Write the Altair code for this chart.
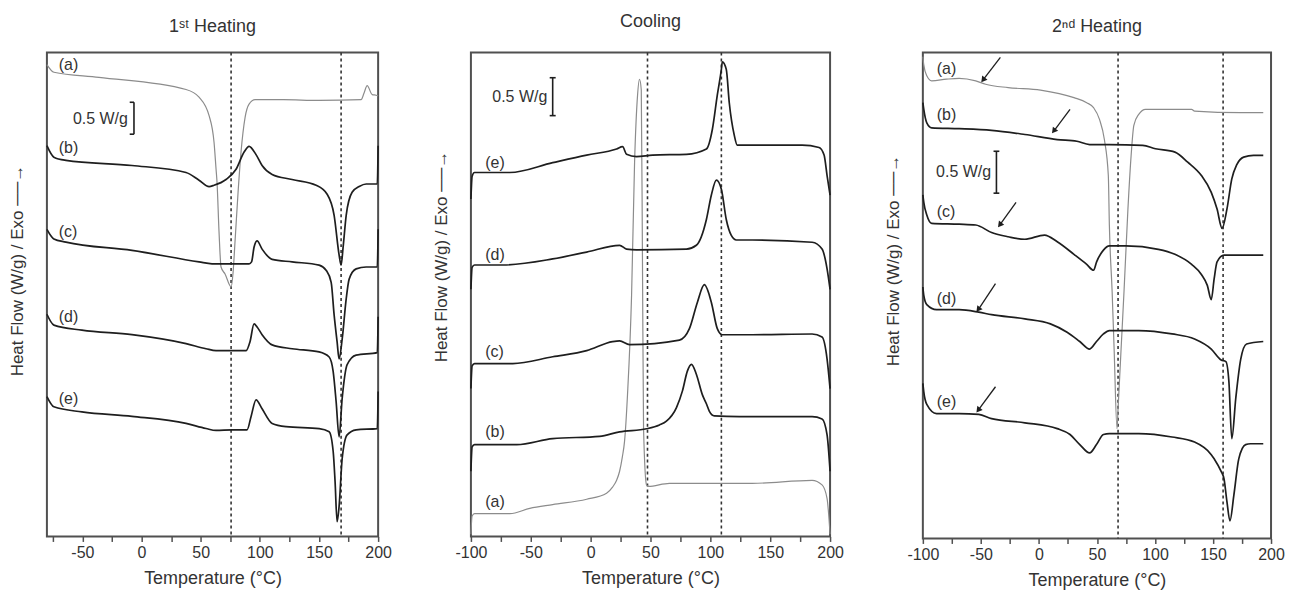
import altair as alt
import pandas as pd

FONT = "Liberation Sans"
INK = "#1e1e1e"
GRAY = "#8c8c8c"
FRAME = "#505050"
YTITLE = "Heat Flow (W/g) / Exo ──→"
XTITLE = "Temperature (°C)"

# ---------------- Panel 1: 1st heating ----------------
h1_a_T = [-80, -74.1, -36, 37.6, 48.6, 57.1, 61.3, 63, 63.8, 65.5, 67.2, 70.6, 75.7, 77.4, 79, 81.6, 84.1, 87.5, 90.9, 96, 120, 150, 185.6, 188.2, 190.7, 195, 198.3, 200]
h1_a_v = [7.39, 7.27, 7.19, 7.00, 6.88, 6.59, 6.17, 5.75, 5.55, 4.77, 4.22, 4.11, 3.91, 4.14, 4.61, 5.39, 6.02, 6.56, 6.77, 6.84, 6.84, 6.83, 6.84, 6.95, 7.06, 6.92, 6.91, 6.90]
h1_b_T = [-80, -74.1, -63.9, -8.1, 37.6, 48.6, 57.1, 61.3, 71.4, 79.9, 86.7, 90.9, 96.8, 101.9, 110.4, 127.3, 147.6, 156.9, 162.8, 167, 168.7, 170.4, 173, 178, 184, 189.9, 198.3, 199.3, 200]
h1_b_v = [6.12, 5.94, 5.89, 5.81, 5.70, 5.58, 5.48, 5.50, 5.59, 5.75, 6.02, 6.11, 5.98, 5.81, 5.67, 5.59, 5.50, 5.36, 5.03, 4.41, 4.25, 4.53, 5.03, 5.39, 5.48, 5.52, 5.52, 5.52, 6.12]
h1_c_T = [-80, -74.1, -63.9, -8.1, 48.6, 59.6, 90.9, 93, 95.1, 97.7, 101.9, 110.4, 127.3, 150.1, 156, 160.3, 162.8, 165.3, 167, 169.6, 173, 175.5, 181.4, 189.9, 199.3, 200]
h1_c_v = [4.81, 4.66, 4.61, 4.48, 4.30, 4.27, 4.27, 4.30, 4.53, 4.63, 4.50, 4.34, 4.30, 4.25, 4.17, 3.98, 3.47, 3.05, 2.78, 3.09, 3.72, 4.03, 4.19, 4.22, 4.22, 4.81]
h1_d_T = [-80, -74.1, -50.4, -8.1, 37.6, 54.5, 63, 88.4, 91.7, 95.1, 97.7, 101.9, 110.4, 127.3, 150.1, 158.6, 162, 164.5, 167, 169.6, 173.8, 181.4, 199.3, 200]
h1_d_v = [3.48, 3.31, 3.23, 3.16, 3.02, 2.94, 2.91, 2.91, 3.05, 3.33, 3.28, 3.16, 3.00, 2.94, 2.89, 2.81, 2.58, 2.11, 1.56, 2.16, 2.69, 2.84, 2.88, 3.44]
h1_e_T = [-80, -74.1, -50.4, -8.1, 37.6, 54.5, 63, 76.5, 89.2, 92.6, 96.8, 101.9, 110.4, 122.2, 150.1, 158.6, 162, 163.6, 165.3, 167, 169.6, 173.8, 181.4, 199.3, 200]
h1_e_v = [2.19, 2.03, 1.95, 1.88, 1.77, 1.69, 1.66, 1.67, 1.67, 1.88, 2.14, 2.00, 1.77, 1.72, 1.69, 1.64, 1.33, 0.86, 0.23, 0.47, 1.22, 1.59, 1.67, 1.69, 2.27]
h1_dash_T = [75.7, 168.7]
h1_lab_text = ["(a)", "(b)", "(c)", "(d)", "(e)"]
h1_lab_T = [-70, -70, -70, -70, -70]
h1_lab_v = [7.38, 6.09, 4.77, 3.44, 2.16]

# ---------------- Panel 2: cooling ----------------
c_a_T = [-100, -99, -97, -67.5, -50.8, -31.7, -3.3, 13.3, 18.3, 21.7, 24.2, 26.5, 28.3, 30.8, 34.2, 36.7, 39.2, 40.8, 42.3, 43.3, 44.2, 46.7, 48.3, 65.8, 135, 185, 193.3, 197.5, 200]
c_a_v = [0.03, 0.27, 0.30, 0.30, 0.37, 0.42, 0.49, 0.57, 0.65, 0.74, 0.86, 1.05, 1.25, 1.87, 3.18, 4.93, 5.82, 6.03, 5.89, 3.62, 1.42, 0.68, 0.66, 0.70, 0.70, 0.74, 0.68, 0.50, 0.03]
c_b_T = [-100, -99, -97, -61.7, -31.7, 7.5, 24.2, 46.7, 57.5, 63.3, 71.7, 76.7, 80.8, 84.2, 88.3, 93.3, 96.7, 99.2, 103.3, 124.2, 185, 193.3, 197.5, 200]
c_b_v = [0.86, 1.18, 1.21, 1.21, 1.29, 1.32, 1.38, 1.42, 1.47, 1.52, 1.70, 1.92, 2.18, 2.27, 2.14, 1.87, 1.75, 1.65, 1.59, 1.58, 1.58, 1.55, 1.34, 0.86]
c_c_T = [-100, -99, -97, -65, -31.7, -3.3, 18.3, 24.2, 32.5, 74.2, 82.5, 89.2, 95, 100.8, 105.8, 110, 124.2, 135, 185, 193.3, 197.5, 200]
c_c_v = [1.95, 2.25, 2.28, 2.28, 2.37, 2.45, 2.57, 2.58, 2.53, 2.59, 2.74, 3.09, 3.32, 3.09, 2.74, 2.66, 2.66, 2.66, 2.67, 2.63, 2.34, 1.95]
c_d_T = [-100, -99, -97, -73.3, -31.7, -3.3, 24.2, 30, 38.3, 80, 88.3, 96.7, 100.8, 105, 109.2, 113.3, 117.5, 121.7, 135, 185, 193.3, 197.5, 200]
c_d_v = [3.26, 3.55, 3.58, 3.58, 3.66, 3.75, 3.84, 3.79, 3.78, 3.79, 3.84, 4.18, 4.50, 4.70, 4.58, 4.18, 3.97, 3.91, 3.91, 3.88, 3.79, 3.53, 3.26]
c_e_T = [-100, -99, -97, -67.5, -31.7, -3.3, 21.7, 26.7, 30, 38.3, 51.7, 80, 96.7, 101.7, 105.8, 109.2, 110, 113.3, 115.8, 120, 122.5, 135, 176.7, 190.8, 195, 197.5, 200]
c_e_v = [4.45, 4.75, 4.80, 4.80, 4.93, 5.03, 5.11, 5.14, 5.04, 5.01, 5.03, 5.04, 5.11, 5.37, 5.82, 6.16, 6.26, 6.16, 5.72, 5.29, 5.16, 5.16, 5.16, 5.13, 5.03, 4.76, 4.50]
c_dash_T = [47.5, 109.2]
c_lab_text = ["(e)", "(d)", "(c)", "(b)", "(a)"]
c_lab_T = [-88, -88, -88, -88, -88]
c_lab_v = [4.93, 3.71, 2.43, 1.38, 0.46]

# ---------------- Panel 3: 2nd heating ----------------
h2_a_T = [-100, -99.2, -96.6, -92.4, -79.7, -68.7, -54.4, -45.9, -26.5, 1.4, 30.2, 41.2, 47.1, 52.2, 56.4, 59.8, 60.7, 63.1, 64.8, 67.3, 68.2, 70.8, 73.3, 76.7, 79.2, 81.8, 86, 91.9, 131.6, 134.1, 173.9, 193.3]
h2_a_v = [5.75, 5.65, 5.52, 5.46, 5.48, 5.49, 5.46, 5.42, 5.38, 5.35, 5.26, 5.20, 5.14, 5.00, 4.76, 4.33, 3.74, 2.94, 2.26, 1.31, 1.55, 2.26, 2.94, 3.93, 4.52, 4.93, 5.06, 5.12, 5.12, 5.10, 5.08, 5.08]
h2_b_T = [-100, -99.2, -96.6, -92.4, -68.7, -40.8, -12.1, 15.8, 32.7, 43.7, 60.7, 89.4, 100.4, 117.2, 128.2, 140, 148.5, 153.5, 157.8, 162, 166.2, 170.5, 176.4, 184.9, 193.3]
h2_b_v = [5.20, 5.12, 4.96, 4.90, 4.89, 4.87, 4.82, 4.76, 4.74, 4.70, 4.70, 4.69, 4.65, 4.61, 4.49, 4.33, 4.13, 3.93, 3.70, 3.93, 4.29, 4.46, 4.55, 4.57, 4.57]
h2_c_T = [-100, -99.2, -96.6, -92.4, -68.7, -54.4, -40.8, -26.5, -12.1, 4.8, 15.8, 30.2, 41.2, 47.1, 49.7, 55.6, 60.7, 75, 102.9, 117.2, 131.6, 140, 145.1, 148.5, 151, 153.5, 159.5, 193.3]
h2_c_v = [4.10, 4.01, 3.86, 3.76, 3.75, 3.74, 3.65, 3.60, 3.57, 3.62, 3.54, 3.39, 3.27, 3.20, 3.30, 3.44, 3.49, 3.49, 3.45, 3.39, 3.27, 3.15, 3.02, 2.85, 3.10, 3.30, 3.38, 3.38]
h2_d_T = [-100, -99.2, -96.6, -88.2, -68.7, -51.8, -40.8, -12.1, 9.9, 24.3, 35.2, 43.7, 49.6, 55.6, 60.7, 86, 114.7, 134.1, 148.5, 157, 161.1, 163.7, 166.2, 169.6, 173.9, 178.9, 193.3]
h2_d_v = [3.00, 2.90, 2.79, 2.73, 2.73, 2.70, 2.67, 2.62, 2.56, 2.46, 2.35, 2.26, 2.35, 2.44, 2.48, 2.48, 2.44, 2.38, 2.26, 2.13, 2.11, 1.87, 1.19, 1.67, 2.14, 2.32, 2.35]
h2_e_T = [-100, -99.2, -96.6, -88.2, -68.7, -51.8, -40.8, -12.1, 15.8, 26.8, 35.2, 43.7, 49.6, 55.6, 60.7, 86, 114.7, 134.1, 148.5, 151, 157, 159.5, 162, 164.6, 168, 172.2, 178.1, 182.3, 193.3]
h2_e_v = [1.85, 1.75, 1.60, 1.49, 1.49, 1.48, 1.43, 1.38, 1.31, 1.24, 1.12, 1.02, 1.12, 1.24, 1.25, 1.25, 1.21, 1.15, 1.00, 0.95, 0.80, 0.71, 0.44, 0.21, 0.52, 0.95, 1.12, 1.13, 1.13]
h2_dash_T = [68.2, 158.7]
h2_lab_text = ["(a)", "(b)", "(c)", "(d)", "(e)"]
h2_lab_T = [-88, -88, -88, -88, -88]
h2_lab_v = [5.60, 5.05, 3.89, 2.86, 1.63]
# arrows: start (T, v) -> tip (T, v)
h2_arr_T0 = [-33.2, 26.8, -19.7, -37.4, -37.4]
h2_arr_v0 = [5.74, 5.12, 4.01, 3.04, 1.81]
h2_arr_T1 = [-47.6, 13.3, -33.2, -51.8, -51.8]
h2_arr_v1 = [5.48, 4.87, 3.75, 2.74, 1.54]

# scale bars (0.5 W/g): bar position T, bottom v, cap extent, text anchor
bar_T = [-6.4, -31.7, -36.6]
bar_v0 = [6.30, 5.55, 4.12]
bar_cap_left = [-10.0, -34.2, -39.1]
bar_cap_right = [-6.4, -29.2, -34.1]
bar_text_T = [-11.5, -36.2, -41.2]
bar_text_v = [6.53, 5.79, 4.37]
bar_len = 0.5


def series_df(names, Ts, vs):
    rows = []
    for n, T, v in zip(names, Ts, vs):
        for t, y in zip(T, v):
            rows.append({"s": n, "T": t, "v": y})
    return pd.DataFrame(rows)


def make_panel(idx, title, title_offset, width, height, xdom, ydom, ticks,
               black, gray, dashes, labels, ytitle_y, arrows=None):
    xs = alt.Scale(domain=xdom, nice=False, zero=False)
    ys = alt.Scale(domain=ydom, nice=False, zero=False)
    xaxis = alt.Axis(title=XTITLE, values=ticks, grid=False, domain=False,
                     labelExpr="datum.value % 50 === 0 ? toString(datum.value) : ''",
                     labelFlush=False, labelOverlap=False,
                     tickSize=5, tickWidth=1.5, tickColor=FRAME, labelPadding=3,
                     titlePadding=9)
    yaxis = alt.Axis(title=YTITLE, labels=False, ticks=False, domain=False, grid=False,
                     titleX=-29, titleY=ytitle_y, titleAngle=-90, titleFontSize=17,
                     titleAlign="center", titleBaseline="middle")
    X = lambda f="T": alt.X(f"{f}:Q", scale=xs, axis=xaxis)
    Y = lambda f="v": alt.Y(f"{f}:Q", scale=ys, axis=yaxis)

    blk = alt.Chart(black).mark_line(color=INK, strokeWidth=1.7, interpolate="monotone").encode(
        x=X(), y=Y(), detail="s:N")
    gry = alt.Chart(gray).mark_line(color=GRAY, strokeWidth=1.2, interpolate="monotone").encode(
        x=X(), y=Y(), detail="s:N")
    dash = alt.Chart(pd.DataFrame({"T": dashes})).mark_rule(
        color="#333333", strokeWidth=1.6, strokeDash=[3, 3]).encode(x=X())
    lab = alt.Chart(labels).mark_text(align="left", baseline="middle", font=FONT,
                                      fontSize=16, color="#333333").encode(
        x=X(), y=Y(), text="t:N")
    bar_df = pd.DataFrame({"T": [bar_T[idx]], "v": [bar_v0[idx]], "v2": [bar_v0[idx] + bar_len]})
    bar = alt.Chart(bar_df).mark_rule(color=INK, strokeWidth=1.6).encode(
        x=X(), y=Y(), y2="v2:Q")
    cap_df = pd.DataFrame({"T": [bar_cap_left[idx]] * 2, "T2": [bar_cap_right[idx]] * 2,
                           "v": [bar_v0[idx], bar_v0[idx] + bar_len]})
    caps = alt.Chart(cap_df).mark_rule(color=INK, strokeWidth=1.6).encode(
        x=X(), x2="T2:Q", y=Y())
    btxt = alt.Chart(pd.DataFrame({"T": [bar_text_T[idx]], "v": [bar_text_v[idx]], "t": ["0.5 W/g"]})).mark_text(
        align="right", baseline="middle", font=FONT, fontSize=16, color="#333333").encode(
        x=X(), y=Y(), text="t:N")
    layers = [dash, gry, blk, lab, bar, caps, btxt]
    if arrows is not None:
        ar = alt.Chart(arrows).mark_rule(color=INK, strokeWidth=1.3).encode(
            x=X(), y=Y(), x2="T2:Q", y2="v2:Q")
        head = alt.Chart(arrows).mark_point(shape="triangle", filled=True, size=45, angle=218,
                                             color=INK, opacity=1).encode(
            x=X("T2"), y=Y("v2"))
        layers += [ar, head]
    return alt.layer(*layers).properties(
        width=width, height=height,
        title=alt.TitleParams(title, font=FONT, fontSize=18, fontWeight="normal",
                              color="#333333", offset=title_offset))


p1 = make_panel(
    0, "1ˢᵗ Heating", 16, 332, 485, [-80, 200], [0, 485 / 64], list(range(-75, 201, 25)),
    series_df(["b", "c", "d", "e"], [h1_b_T, h1_c_T, h1_d_T, h1_e_T], [h1_b_v, h1_c_v, h1_d_v, h1_e_v]),
    series_df(["a"], [h1_a_T], [h1_a_v]),
    h1_dash_T,
    pd.DataFrame({"T": h1_lab_T, "v": h1_lab_v, "t": h1_lab_text}),
    218)

p2 = make_panel(
    1, "Cooling", 21, 360, 485, [-100, 200], [0, 485 / 76], list(range(-100, 201, 25)),
    series_df(["b", "c", "d", "e"], [c_b_T, c_c_T, c_d_T, c_e_T], [c_b_v, c_c_v, c_d_v, c_e_v]),
    series_df(["a"], [c_a_T], [c_a_v]),
    c_dash_T,
    pd.DataFrame({"T": c_lab_T, "v": c_lab_v, "t": c_lab_text}),
    204)

p3 = make_panel(
    2, "2ⁿᵈ Heating", 16, 349, 487, [-100, 200], [0, 487 / 84], list(range(-100, 201, 25)),
    series_df(["b", "c", "d", "e"], [h2_b_T, h2_c_T, h2_d_T, h2_e_T], [h2_b_v, h2_c_v, h2_d_v, h2_e_v]),
    series_df(["a"], [h2_a_T], [h2_a_v]),
    h2_dash_T,
    pd.DataFrame({"T": h2_lab_T, "v": h2_lab_v, "t": h2_lab_text}),
    208,
    arrows=pd.DataFrame({"T": h2_arr_T0, "v": h2_arr_v0, "T2": h2_arr_T1, "v2": h2_arr_v1}))

chart = alt.hconcat(p1, p2, p3, spacing=39).properties(
    padding={"left": 0, "top": 3, "right": 0, "bottom": 0}
).configure_view(
    stroke=FRAME, strokeWidth=2
).configure_axis(
    labelFont=FONT, titleFont=FONT, labelFontSize=16, titleFontSize=18,
    labelColor="#333333", titleColor="#333333", titleFontWeight="normal"
)

chart.save("out.html", embed_options={"renderer": "svg", "actions": False})
